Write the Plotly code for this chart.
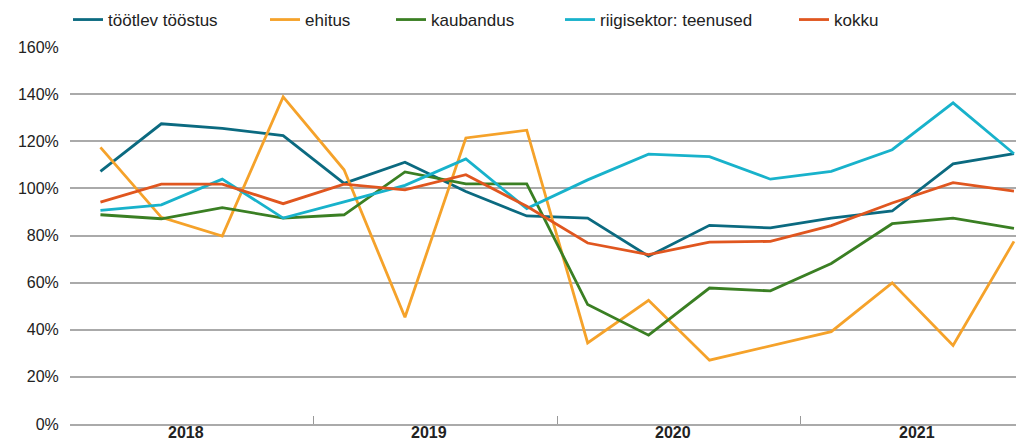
import plotly.graph_objects as go

quarters = ["2018 I", "2018 II", "2018 III", "2018 IV",
            "2019 I", "2019 II", "2019 III", "2019 IV",
            "2020 I", "2020 II", "2020 III", "2020 IV",
            "2021 I", "2021 II", "2021 III", "2021 IV"]
years = ["2018", "2019", "2020", "2021"]
y_ticks = [0, 20, 40, 60, 80, 100, 120, 140, 160]

tootlev = [107.2, 127.4, 125.5, 122.4, 102.1, 111.1, 98.7, 88.3,
           87.4, 71.2, 84.3, 83.2, 87.4, 90.4, 110.4, 114.7]
ehitus = [117.4, 87.7, 79.8, 138.8, 107.9, 45.3, 121.4, 124.7,
          34.4, 52.5, 27.1, 33.3, 39.2, 59.9, 33.3, 77.5]
kaubandus = [88.8, 87.1, 91.8, 87.4, 88.8, 107.0, 101.9, 101.9,
             50.7, 37.7, 57.7, 56.5, 68.1, 85.0, 87.4, 83.0]
riigisektor = [90.7, 93.0, 103.9, 87.4, 94.3, 101.3, 112.5, 91.4,
               103.6, 114.5, 113.5, 103.9, 107.2, 116.4, 136.3, 114.7]
kokku = [94.2, 101.8, 101.8, 93.5, 101.8, 99.4, 105.8, 92.4,
         76.8, 71.9, 77.2, 77.5, 84.2, 93.8, 102.4, 98.8]

series = [
    ("töötlev tööstus", tootlev, "#0b6a80"),
    ("ehitus", ehitus, "#f5a22a"),
    ("kaubandus", kaubandus, "#3a7f23"),
    ("riigisektor: teenused", riigisektor, "#18b2cb"),
    ("kokku", kokku, "#e0561f"),
]
legend_text_x = [108, 305, 431, 600, 834]

xs = list(range(len(quarters)))
FONT = "Liberation Sans, Arial, sans-serif"

fig = go.Figure()
layout_legends = {}
for i, (name, vals, col) in enumerate(series):
    lname = "legend" if i == 0 else f"legend{i+1}"
    fig.add_trace(go.Scatter(
        x=xs, y=vals, mode="lines", name=name,
        line=dict(color=col, width=2.8),
        text=quarters, hovertemplate="%{text}: %{y:.1f}%<extra>" + name + "</extra>",
        legend=lname,
    ))
    layout_legends[lname] = dict(
        orientation="h", xref="container", yref="container",
        x=(legend_text_x[i] - 48) / 1024, y=1 - 12 / 441,
        xanchor="left", yanchor="middle",
        font=dict(family=FONT, size=17, color="#222"),
        bgcolor="rgba(0,0,0,0)", borderwidth=0,
    )

for j, yr in enumerate(years):
    fig.add_annotation(
        x=j * 4 + 1.5, y=0, xref="x", yref="paper",
        yshift=-19, xshift=-6, text="<b>" + yr + "</b>", showarrow=False,
        font=dict(family=FONT, size=16, color="#222"),
    )

fig.update_layout(
    width=1024, height=441,
    margin=dict(l=62, r=0, t=39, b=25),
    plot_bgcolor="white", paper_bgcolor="white",
    showlegend=True,
    font=dict(family=FONT, size=16, color="#222"),
    **layout_legends,
)
fig.update_xaxes(
    range=[-0.5, 15.296], showgrid=False, zeroline=False,
    showline=True, linecolor="#aaaaaa", linewidth=1.5,
    ticks="inside", ticklen=8, tickcolor="#999999", tickwidth=1,
    tickmode="array", tickvals=[-0.5, 3.5, 7.5, 11.5], showticklabels=False,
)
fig.update_yaxes(
    range=[0, 160], tickmode="array", tickvals=y_ticks,
    ticktext=[f"{v}%" for v in y_ticks],
    showgrid=True, gridcolor="#aaaaaa", gridwidth=1.5,
    zeroline=False, showline=False,
    ticks="outside", ticklen=7, tickcolor="rgba(0,0,0,0)",
    tickfont=dict(family=FONT, size=16, color="#222"),
)

fig.write_html("out.html")
